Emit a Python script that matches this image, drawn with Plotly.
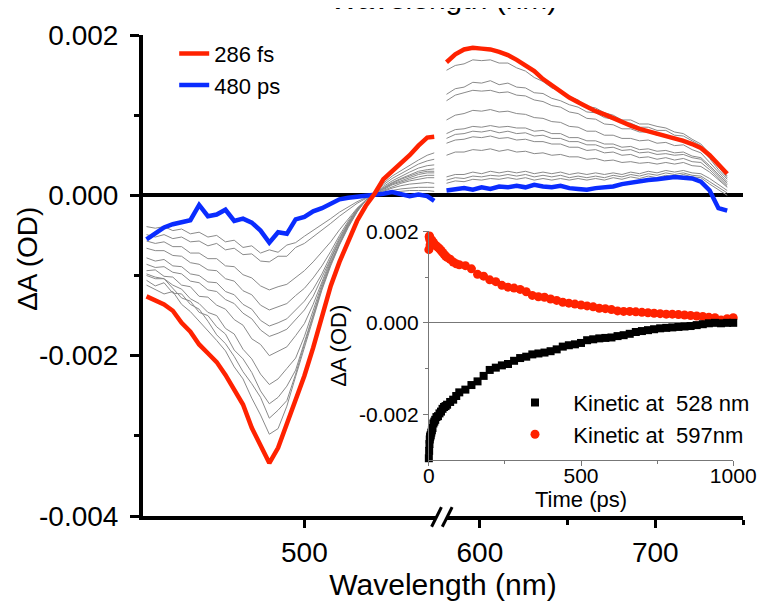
import plotly.graph_objects as go

# ---------------- data (ΔA values in units of 1e-4 OD) ----------------
UNIT = 1e-4

WL_LEFT = [410, 415, 420, 425, 430, 435, 440, 445, 450, 455, 460, 465, 470, 475, 480,
           485, 490, 495, 500, 505, 510, 515, 520, 525, 530, 535, 540, 545, 550, 555,
           560, 565, 570, 574]
WL_RIGHT = [581, 586, 591, 596, 601, 606, 611, 616, 621, 626, 631, 636, 641, 646, 651,
            656, 661, 666, 671, 676, 681, 686, 691, 696, 701, 706, 711, 716, 721, 726,
            731, 736, 741]

RED_286FS_LEFT = [-12.6, -13.1, -13.6, -14.4, -15.9, -17.0, -18.6, -19.7, -20.8, -22.4,
                  -24.3, -26.1, -29.0, -31.3, -33.4, -31.5, -28.6, -25.6, -22.5, -19.0,
                  -15.2, -11.3, -8.3, -5.6, -3.2, -1.3, 0.2, 2.0, 3.0, 3.9, 5.0, 6.2, 7.2, 7.3]
RED_286FS_RIGHT = [16.6, 17.6, 18.2, 18.4, 18.3, 18.2, 17.9, 17.5, 16.9, 16.2, 15.5, 14.5,
                   13.7, 12.9, 12.2, 11.6, 11.0, 10.5, 10.1, 9.6, 9.1, 8.7, 8.3, 8.0, 7.8,
                   7.5, 7.1, 6.8, 6.4, 5.9, 5.0, 3.9, 2.7]

BLUE_480PS_LEFT = [-5.5, -4.8, -4.0, -3.6, -3.3, -3.1, -1.2, -2.6, -2.4, -1.8, -3.2, -2.9,
                   -3.4, -4.4, -5.9, -4.6, -4.8, -3.0, -2.7, -2.0, -1.6, -1.0, -0.5, -0.3,
                   -0.2, -0.1, 0.1, 0.2, 0.4, 0.2, -0.1, 0.1, -0.1, -0.7]
BLUE_480PS_RIGHT = [0.6, 0.7, 0.9, 0.7, 1.0, 0.8, 1.1, 1.0, 1.2, 1.0, 1.3, 1.1, 1.0, 1.2,
                    0.9, 0.8, 0.7, 0.9, 1.0, 1.1, 1.4, 1.6, 1.7, 1.9, 2.0, 2.2, 2.3, 2.2,
                    2.1, 1.7, 0.6, -1.6, -1.9]

G01_LEFT = [-11.2, -11.8, -12.3, -12.0, -13.6, -14.5, -15.7, -16.8, -18.1, -19.4, -21.4,
            -22.9, -25.3, -27.4, -29.8, -29.1, -26.3, -22.6, -18.9, -15.2, -11.8, -8.8,
            -6.2, -4.0, -2.1, -0.6, 0.5, 1.5, 2.4, 3.1, 3.8, 4.4, 5.0, 5.3]
G02_LEFT = [-10.6, -11.3, -10.9, -12.2, -12.3, -13.6, -14.2, -15.7, -17.4, -18.5, -20.1,
            -22.0, -23.5, -25.2, -27.8, -26.8, -25.6, -22.3, -18.6, -15.0, -11.6, -8.6,
            -6.1, -3.9, -2.0, -0.6, 0.4, 1.3, 2.1, 2.7, 3.3, 3.9, 4.3, 4.5]
G03_LEFT = [-10.0, -10.4, -10.4, -11.6, -12.8, -13.2, -14.6, -15.0, -16.4, -17.3, -19.3,
            -20.4, -22.1, -24.4, -26.0, -25.2, -23.8, -21.8, -18.3, -14.8, -11.4, -8.5,
            -6.0, -3.8, -2.0, -0.6, 0.3, 1.1, 1.8, 2.4, 2.9, 3.4, 3.7, 3.8]
G04_LEFT = [-9.8, -10.2, -10.4, -11.2, -11.7, -12.9, -13.5, -14.6, -15.0, -16.6, -17.3,
            -19.2, -20.4, -22.3, -23.6, -22.9, -21.6, -20.3, -17.6, -14.4, -11.1, -8.3,
            -5.9, -3.7, -1.9, -0.6, 0.3, 1.0, 1.6, 2.1, 2.6, 3.0, 3.2, 3.3]
G05_LEFT = [-9.4, -9.3, -10.1, -10.2, -11.2, -11.4, -12.6, -12.7, -13.7, -14.2, -15.5,
            -16.2, -17.9, -18.6, -20.0, -19.5, -18.9, -17.5, -16.0, -13.6, -10.7, -8.0,
            -5.7, -3.6, -1.9, -0.6, 0.2, 0.9, 1.5, 2.0, 2.4, 2.8, 3.0, 3.0]
G06_LEFT = [-8.6, -9.0, -8.9, -9.6, -9.8, -10.7, -10.9, -11.8, -12.0, -13.0, -13.5, -14.7,
            -15.4, -16.8, -17.6, -17.2, -16.7, -15.5, -14.3, -12.6, -10.2, -7.7, -5.5,
            -3.5, -1.8, -0.6, 0.2, 0.8, 1.4, 1.8, 2.2, 2.6, 2.8, 2.8]
G07_LEFT = [-7.8, -8.2, -8.0, -8.8, -8.9, -9.8, -10.0, -10.8, -10.9, -12.0, -12.4, -13.6,
            -14.2, -15.6, -16.3, -15.9, -15.4, -14.3, -13.2, -11.7, -9.8, -7.5, -5.3,
            -3.4, -1.8, -0.6, 0.1, 0.7, 1.3, 1.7, 2.0, 2.3, 2.5, 2.5]
G08_LEFT = [-6.6, -6.9, -6.9, -7.5, -7.6, -8.4, -8.6, -9.3, -9.4, -10.4, -10.7, -11.9,
            -12.4, -13.7, -14.3, -13.9, -13.5, -12.5, -11.6, -10.3, -8.8, -7.0, -5.0,
            -3.2, -1.7, -0.6, 0.1, 0.6, 1.1, 1.5, 1.8, 2.0, 2.2, 2.2]
G09_LEFT = [-5.7, -6.0, -5.8, -6.4, -6.4, -7.2, -7.2, -7.9, -7.9, -8.8, -8.9, -9.9, -10.3,
            -11.3, -11.8, -11.4, -11.1, -10.2, -9.4, -8.3, -7.1, -5.8, -4.3, -2.9, -1.6,
            -0.6, 0.0, 0.5, 0.9, 1.2, 1.4, 1.5, 1.6, 1.5]
G10_LEFT = [-4.9, -5.2, -4.9, -5.4, -5.2, -5.8, -5.7, -6.3, -6.0, -6.8, -6.6, -7.4, -7.3,
            -8.2, -8.3, -7.6, -7.6, -6.5, -6.0, -5.2, -4.4, -3.5, -2.6, -1.8, -1.0, -0.4,
            0.0, 0.3, 0.6, 0.8, 0.9, 1.0, 1.0, 1.0]
G11_LEFT = [-3.9, -4.1, -3.9, -4.4, -4.2, -4.8, -4.6, -5.2, -5.0, -5.8, -5.6, -6.5, -6.3,
            -7.2, -6.8, -7.1, -6.2, -5.9, -5.1, -4.4, -3.7, -2.9, -2.1, -1.4, -0.8, -0.3,
            0.0, 0.2, 0.4, 0.5, 0.6, 0.6, 0.6, 0.5]

G01_RIGHT = [15.6, 16.2, 16.4, 16.9, 16.8, 16.9, 16.5, 16.5, 15.9, 15.5, 14.7, 14.2, 13.4,
             13.0, 12.3, 11.9, 11.1, 10.9, 10.3, 10.0, 9.4, 9.4, 8.9, 8.9, 8.6, 8.4, 7.9,
             7.7, 7.0, 6.4, 5.2, 3.8, 2.4]
G02_RIGHT = [12.6, 13.3, 13.5, 14.1, 14.0, 14.3, 13.8, 14.0, 13.5, 13.4, 12.8, 12.7, 12.1,
             11.8, 11.3, 11.0, 10.4, 10.3, 9.7, 9.5, 9.0, 9.0, 8.5, 8.5, 8.1, 8.1, 7.5,
             7.4, 6.8, 6.2, 4.9, 3.5, 2.2]
G03_RIGHT = [11.8, 12.5, 12.8, 13.1, 13.0, 13.1, 12.8, 12.9, 12.5, 12.4, 11.9, 11.7, 11.2,
             11.0, 10.4, 10.2, 9.6, 9.5, 8.9, 8.8, 8.3, 8.3, 7.9, 7.9, 7.5, 7.5, 7.1,
             7.0, 6.4, 5.9, 4.6, 3.2, 2.0]
G04_RIGHT = [9.4, 10.0, 10.2, 10.6, 10.5, 10.7, 10.4, 10.5, 10.2, 10.1, 9.7, 9.6, 9.2,
             9.1, 8.6, 8.5, 8.0, 8.0, 7.5, 7.5, 7.1, 7.1, 6.8, 6.9, 6.5, 6.6, 6.2, 6.3,
             5.7, 5.3, 4.1, 2.9, 1.7]
G05_RIGHT = [7.7, 8.2, 8.3, 8.6, 8.5, 8.7, 8.5, 8.6, 8.4, 8.4, 8.0, 8.1, 7.7, 7.7, 7.2,
             7.2, 6.8, 6.8, 6.4, 6.4, 6.0, 6.1, 5.7, 5.8, 5.5, 5.6, 5.3, 5.4, 4.9, 4.7,
             3.7, 2.6, 1.5]
G06_RIGHT = [7.1, 7.6, 7.7, 8.0, 7.9, 8.1, 7.8, 8.0, 7.7, 7.8, 7.4, 7.5, 7.1, 7.1, 6.7,
             6.7, 6.3, 6.3, 5.9, 6.0, 5.6, 5.7, 5.3, 5.4, 5.1, 5.2, 5.0, 5.1, 4.7, 4.5,
             3.5, 2.4, 1.3]
G07_RIGHT = [6.5, 6.9, 7.0, 7.3, 7.2, 7.4, 7.1, 7.2, 6.9, 7.0, 6.7, 6.7, 6.4, 6.4, 6.0,
             6.0, 5.6, 5.7, 5.3, 5.4, 5.0, 5.1, 4.7, 4.8, 4.5, 4.7, 4.4, 4.6, 4.2, 4.1,
             3.2, 2.2, 1.1]
G08_RIGHT = [5.0, 5.4, 5.4, 5.7, 5.6, 5.8, 5.5, 5.7, 5.4, 5.5, 5.2, 5.3, 5.0, 5.1, 4.8,
             4.8, 4.5, 4.6, 4.3, 4.4, 4.1, 4.2, 4.0, 4.1, 3.9, 4.1, 3.9, 4.1, 3.7, 3.6,
             2.9, 2.0, 1.0]
G09_RIGHT = [2.3, 2.6, 2.6, 2.9, 2.7, 3.0, 2.8, 3.0, 2.8, 3.0, 2.7, 2.9, 2.7, 2.9, 2.6,
             2.8, 2.6, 2.8, 2.6, 2.8, 2.6, 2.9, 2.7, 3.0, 2.8, 3.1, 2.9, 3.1, 2.8, 2.7,
             2.1, 1.4, 0.6]
G10_RIGHT = [1.9, 2.2, 2.1, 2.4, 2.3, 2.5, 2.4, 2.6, 2.4, 2.6, 2.3, 2.5, 2.3, 2.5, 2.2,
             2.4, 2.2, 2.4, 2.2, 2.5, 2.3, 2.6, 2.4, 2.7, 2.5, 2.8, 2.6, 2.8, 2.5, 2.4,
             1.7, 1.0, 0.3]
G11_RIGHT = [1.5, 1.8, 1.7, 2.0, 1.9, 2.1, 2.0, 2.2, 2.0, 2.2, 1.9, 2.1, 1.9, 2.1, 1.9,
             2.1, 1.9, 2.1, 1.9, 2.2, 2.0, 2.3, 2.1, 2.4, 2.2, 2.5, 2.3, 2.6, 2.3, 2.2,
             1.4, 0.7, 0.0]

GRAY_LEFT_SERIES = [G01_LEFT, G02_LEFT, G03_LEFT, G04_LEFT, G05_LEFT, G06_LEFT,
                    G07_LEFT, G08_LEFT, G09_LEFT, G10_LEFT, G11_LEFT]
GRAY_RIGHT_SERIES = [G01_RIGHT, G02_RIGHT, G03_RIGHT, G04_RIGHT, G05_RIGHT, G06_RIGHT,
                     G07_RIGHT, G08_RIGHT, G09_RIGHT, G10_RIGHT, G11_RIGHT]

# inset kinetics
KIN_TIME_PS = [0, 1, 2, 3, 4, 5, 6, 8, 10, 12, 15, 18, 21, 25, 30, 35, 40, 45, 50, 55, 60,
               70, 80, 90, 100, 120, 140, 160, 180, 200, 220, 240, 260, 280, 300, 320, 340,
               360, 380, 400, 420, 440, 460, 480, 500, 520, 540, 560, 580, 600, 620, 640,
               660, 680, 700, 720, 740, 760, 780, 800, 820, 840, 860, 880, 900, 920, 940,
               960, 980, 1000]
KIN_528NM = [-29.6, -28.0, -26.5, -25.5, -25.0, -24.8, -24.5, -24.0, -23.5, -23.0, -22.0,
             -21.6, -21.2, -20.6, -20.4, -19.8, -19.4, -18.8, -18.4, -18.2, -17.9, -17.3,
             -16.8, -16.0, -15.2,
             -14.6, -13.6, -12.8, -11.6, -10.3, -9.8, -9.3, -9.0, -8.3, -7.7, -7.4, -6.9,
             -6.7, -6.5, -6.2, -5.8, -5.2, -4.9, -4.7, -4.4, -3.8, -3.6, -3.4, -3.3, -3.2,
             -2.9, -2.7, -2.4, -2.0, -1.8, -1.6, -1.4, -1.2, -1.1, -1.0, -0.9, -0.8, -0.7,
             -0.5, -0.3, -0.1, 0.0, -0.1, 0.0, 0.0]
KIN_597NM = [16.0, 18.8, 19.0, 18.2, 17.0, 18.5, 18.0, 17.6, 18.0, 17.5, 17.6, 17.2, 17.0,
             16.8, 16.5, 16.2, 15.8, 15.4, 15.0, 14.6, 14.3, 13.9, 13.3, 12.9, 12.7,
             12.5, 11.8, 10.6, 10.2, 9.4, 9.0, 8.2, 7.8, 7.6, 7.3, 6.8, 6.0, 5.7, 5.6, 5.2,
             4.9, 4.5, 4.3, 4.1, 3.9, 3.7, 3.5, 3.2, 3.1, 2.9, 2.6, 2.5, 2.5, 2.4, 2.3,
             2.2, 2.1, 2.0, 1.9, 1.9, 1.8, 1.7, 1.6, 1.5, 1.4, 1.2, 1.1, 0.6, 0.9, 1.1]

MAIN_Y_TICKVALS = [0.002, 0.0, -0.002, -0.004]
MAIN_Y_TICKTEXT = ["0.002", "0.000", "-0.002", "-0.004"]
MAIN_X_TICKVALS = [500, 600, 700]
MAIN_X_TICKTEXT = ["500", "600", "700"]
INSET_Y_TICKVALS = [0.002, 0.0, -0.002]
INSET_Y_TICKTEXT = ["0.002", "0.000", "-0.002"]
INSET_X_TICKVALS = [0, 500, 1000]
INSET_X_TICKTEXT = ["0", "500", "1000"]

# ---------------- figure ----------------
FONT = "Liberation Sans, Arial, sans-serif"
RED = "#ff2200"
BLUE = "#0a2cff"
GRAY = "#8a8a8a"


def spectrum_xy(left, right):
    x = WL_LEFT + [None] + WL_RIGHT
    y = [v * UNIT for v in left] + [None] + [v * UNIT for v in right]
    return x, y


fig = go.Figure()

for gl, gr in zip(GRAY_LEFT_SERIES, GRAY_RIGHT_SERIES):
    x, y = spectrum_xy(gl, gr)
    fig.add_trace(go.Scatter(x=x, y=y, mode="lines", line=dict(color=GRAY, width=1),
                             showlegend=False, hoverinfo="skip", connectgaps=False))

x, y = spectrum_xy(BLUE_480PS_LEFT, BLUE_480PS_RIGHT)
fig.add_trace(go.Scatter(x=x, y=y, mode="lines", name="480 ps", legendrank=2,
                         line=dict(color=BLUE, width=4.5), connectgaps=False))
x, y = spectrum_xy(RED_286FS_LEFT, RED_286FS_RIGHT)
fig.add_trace(go.Scatter(x=x, y=y, mode="lines", name="286 fs", legendrank=1,
                         line=dict(color=RED, width=4.5), connectgaps=False))

# inset
NBSP = "\u00a0"
fig.add_trace(go.Scatter(x=KIN_TIME_PS, y=[v * UNIT for v in KIN_597NM], mode="markers",
                         xaxis="x2", yaxis="y2", legend="legend2", legendrank=2,
                         name=NBSP * 3 + "Kinetic at" + NBSP * 2 + "597nm",
                         marker=dict(symbol="circle", size=9, color=RED),
                         cliponaxis=False))
fig.add_trace(go.Scatter(x=KIN_TIME_PS, y=[v * UNIT for v in KIN_528NM], mode="markers",
                         xaxis="x2", yaxis="y2", legend="legend2", legendrank=1,
                         name=NBSP * 3 + "Kinetic at" + NBSP * 2 + "528 nm",
                         marker=dict(symbol="square", size=8, color="black"),
                         cliponaxis=False))

shapes = [
    dict(type="path", xref="x", yref="paper", layer="above",
         path="M 572.5,-0.0224 L 578.1,0.0184 L 584.2,0.0184 L 578.6,-0.0224 Z",
         fillcolor="white", line=dict(width=0)),
    dict(type="line", xref="x", yref="paper", layer="above",
         x0=572.5, y0=-0.0224, x1=578.1, y1=0.0184, line=dict(color="black", width=3)),
    dict(type="line", xref="x", yref="paper", layer="above",
         x0=578.6, y0=-0.0224, x1=584.2, y1=0.0184, line=dict(color="black", width=3)),
]

annotations = [
    dict(text="ΔA (OD)", textangle=-90, xref="paper", yref="paper", x=-0.193, y=0.535,
         xanchor="center", yanchor="middle", showarrow=False,
         font=dict(family=FONT, size=28, color="black")),
    dict(text="Wavelength (nm)", xref="paper", yref="paper", x=0.5, y=1.037,
         xanchor="center", yanchor="bottom", showarrow=False,
         font=dict(family=FONT, size=30, color="black")),
]

fig.update_layout(
    width=770, height=601, autosize=False,
    margin=dict(l=135, r=20, t=27, b=84),
    paper_bgcolor="white", plot_bgcolor="white",
    font=dict(family=FONT, color="black"),
    shapes=shapes, annotations=annotations,
    xaxis=dict(range=[408, 750], tickvals=MAIN_X_TICKVALS, ticktext=MAIN_X_TICKTEXT,
               ticks="outside", ticklen=8, tickwidth=3, tickcolor="black",
               showline=True, linewidth=4, linecolor="black", showgrid=False,
               zeroline=False, tickfont=dict(size=28),
               minor=dict(tickvals=[650, 750], ticks="outside", ticklen=5, tickwidth=3,
                          tickcolor="black", showgrid=False),
               title=dict(text="Wavelength (nm)", font=dict(size=30), standoff=8)),
    yaxis=dict(range=[-0.004, 0.002], tickvals=MAIN_Y_TICKVALS, ticktext=MAIN_Y_TICKTEXT,
               ticks="outside", ticklen=9, tickwidth=3, tickcolor="black",
               showline=True, linewidth=4, linecolor="black", showgrid=False,
               zeroline=True, zerolinecolor="black", zerolinewidth=4,
               tickfont=dict(size=28), ticklabelstandoff=6,
               minor=dict(tickvals=[0.001, -0.001, -0.003], ticks="outside", ticklen=5,
                          tickwidth=3, tickcolor="black", showgrid=False)),
    xaxis2=dict(domain=[0.4764, 0.9837], anchor="y2", range=[0, 1000],
                tickvals=INSET_X_TICKVALS, ticktext=INSET_X_TICKTEXT,
                ticks="outside", ticklen=5, tickwidth=1, tickcolor="#777777",
                showline=True, linewidth=1, linecolor="#777777", showgrid=False,
                zeroline=False, tickfont=dict(size=21), ticklabelstandoff=-8,
                minor=dict(tickvals=[250, 750], ticks="outside", ticklen=3, tickwidth=1,
                           tickcolor="#777777", showgrid=False),
                title=dict(text="Time (ps)", font=dict(size=22), standoff=0)),
    yaxis2=dict(domain=[0.1163, 0.5918], anchor="x2", range=[-0.003, 0.002],
                tickvals=INSET_Y_TICKVALS, ticktext=INSET_Y_TICKTEXT,
                ticks="outside", ticklen=5, tickwidth=1, tickcolor="#777777",
                showline=True, linewidth=1, linecolor="#777777", showgrid=False,
                zeroline=True, zerolinecolor="#777777", zerolinewidth=1,
                tickfont=dict(size=21),
                minor=dict(tickvals=[0.001, -0.001], ticks="outside", ticklen=3,
                           tickwidth=1, tickcolor="#777777", showgrid=False),
                title=dict(text="ΔA (OD)", font=dict(size=22), standoff=6)),
    legend=dict(x=0.052, y=1.005, xanchor="left", yanchor="top",
                bgcolor="rgba(0,0,0,0)", font=dict(size=22), tracegroupgap=0),
    legend2=dict(x=0.62, y=0.279, xanchor="left", yanchor="top",
                 bgcolor="rgba(0,0,0,0)", font=dict(size=22), tracegroupgap=0),
)

fig.write_html("out.html")
